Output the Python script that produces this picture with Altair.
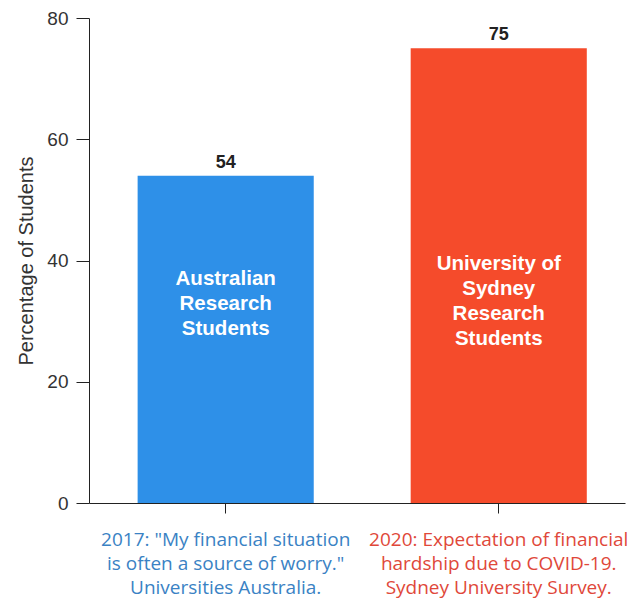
import altair as alt
import pandas as pd

categories = [
    "2017: \"My financial situation|is often a source of worry.\"|Universities Australia.",
    "2020: Expectation of financial|hardship due to COVID-19.|Sydney University Survey.",
]
values = [54, 75]
bar_labels = ["Australian|Research|Students", "University of|Sydney|Research|Students"]
colors = ["#2E90E8", "#F54B2B"]
label_colors = ["#3A82C4", "#E0483A"]
inner_label_y = [37, 39.4]

df = pd.DataFrame({
    "cat": categories,
    "value": values,
    "inner": bar_labels,
    "inner_y": inner_label_y,
})

xenc = alt.X(
    "cat:N",
    sort=categories,
    title=None,
    scale=alt.Scale(paddingInner=0.355, paddingOuter=0.159, align=0.56),
    axis=alt.Axis(
        labelAngle=0,
        labelExpr="split(datum.label, '|')",
        labelFont="Open Sans",
        labelFontSize=19,
        labelLineHeight=24,
        labelPadding=17,
        labelColor=alt.condition(
            f"datum.value == '{categories[0]}'".replace('"', '\\"'),
            alt.value(label_colors[0]),
            alt.value(label_colors[1]),
        ),
        tickSize=10,
        tickColor="#222",
        domainColor="#222",
        labelLimit=400,
    ),
)

base = alt.Chart(df)

bars = base.mark_bar().encode(
    x=xenc,
    y=alt.Y(
        "value:Q",
        scale=alt.Scale(domain=[0, 80]),
        axis=alt.Axis(
            values=[0, 20, 40, 60, 80],
            grid=False,
            title="Percentage of Students",
            titleFont="Liberation Sans",
            titleFontSize=20,
            titleFontWeight="normal",
            titleColor="#333",
            titlePadding=10,
            labelFont="Liberation Sans",
            labelFontSize=19,
            labelColor="#333",
            labelPadding=8,
            tickSize=13,
            tickColor="#222",
            domainColor="#222",
        ),
    ),
    color=alt.Color("cat:N", scale=alt.Scale(domain=categories, range=colors), legend=None),
)

values_text = base.mark_text(
    baseline="alphabetic", dy=-8, font="Liberation Sans", fontSize=18, fontWeight="bold", color="#222"
).encode(x=alt.X("cat:N", sort=categories), y="value:Q", text="value:Q")

inner_text = base.mark_text(
    baseline="middle", font="Liberation Sans", fontSize=20.5, fontWeight="bold", color="white", lineHeight=25
).encode(
    x=alt.X("cat:N", sort=categories),
    y="inner_y:Q",
    text=alt.Text("inner:N"),
).transform_calculate(inner="split(datum.inner, '|')")

chart = (
    (bars + values_text + inner_text)
    .properties(width=536, height=485, padding={"left": 8, "top": 1, "right": 0, "bottom": 2})
    .configure_view(stroke=None)
)

chart.save("out.html", embed_options={"renderer": "svg", "actions": False})
